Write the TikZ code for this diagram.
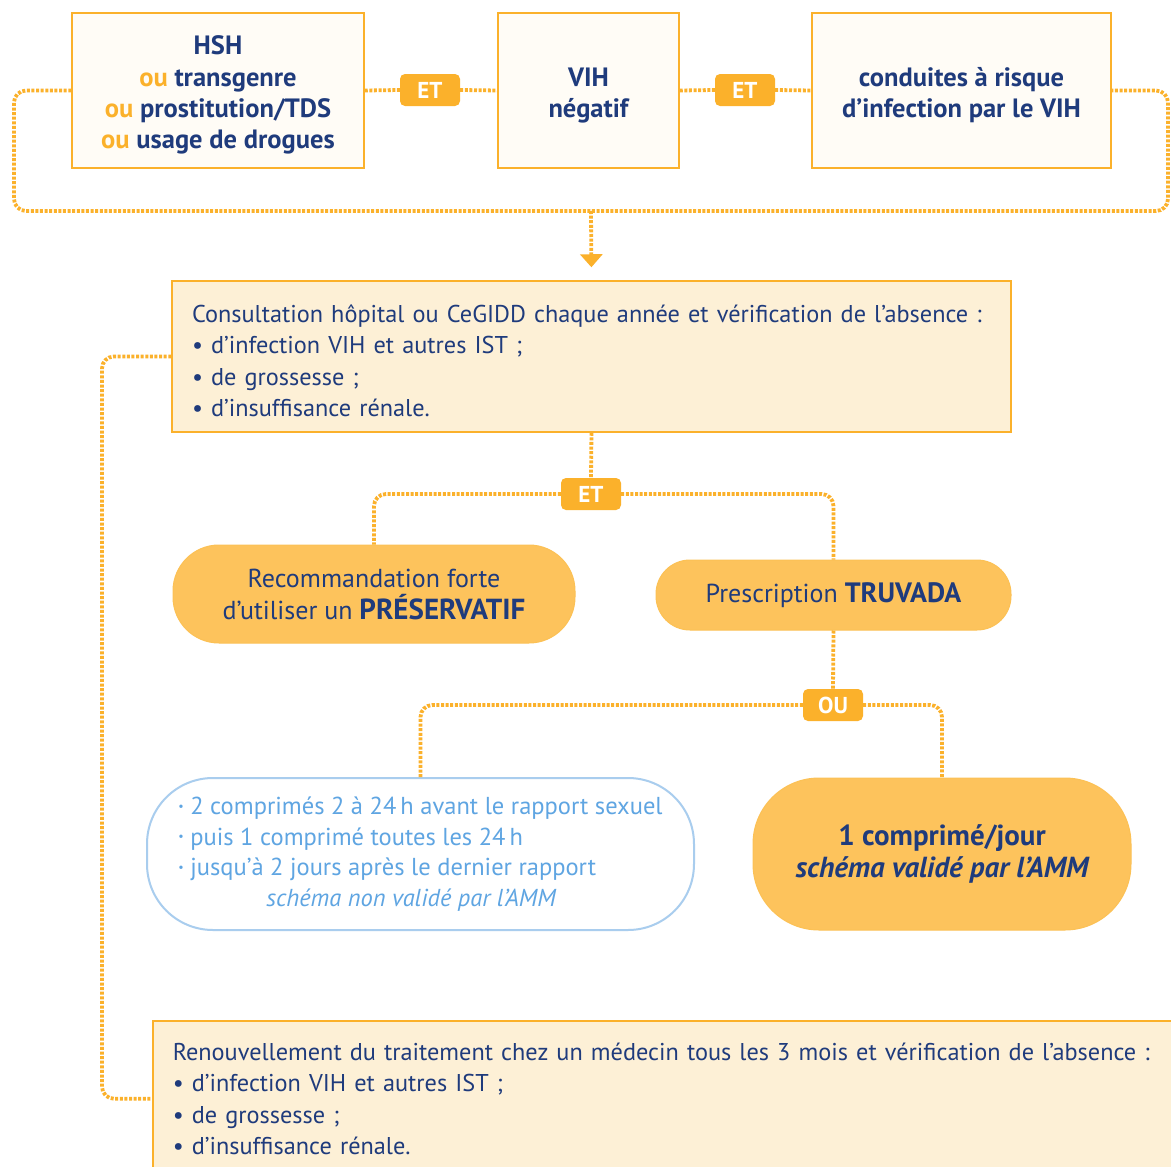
\documentclass[tikz,border=0pt]{standalone}
\usepackage{fontspec}
\setmainfont{PT Sans}
\usetikzlibrary{positioning, arrows.meta}

\definecolor{navy}{HTML}{1F3B7C}
\definecolor{orng}{HTML}{FBB12B}
\definecolor{pill}{HTML}{FDC35C}
\definecolor{cream}{HTML}{FDF0D6}
\definecolor{paper}{HTML}{FFFCF6}
\definecolor{skyb}{HTML}{5FA5E2}
\definecolor{skyline}{HTML}{A9CDEE}

\newcommand{\ou}{{\color{orng}ou}}
\newcommand{\bul}{\raisebox{0.35ex}{\fontsize{12}{12}\selectfont\textbullet}}

\tikzset{
  critbox/.style={draw=orng, line width=1.5pt, fill=paper, text=navy,
    font=\bfseries\fontsize{26.5}{31.3}\selectfont, align=center, inner sep=0pt,
    minimum height=155pt},
  infobox/.style={draw=orng, line width=1.5pt, fill=cream, text=navy,
    font=\fontsize{24.3}{31.5}\selectfont, align=left, inner sep=0pt},
  tag/.style={fill=orng, rounded corners=5pt, text=white,
    font=\bfseries\fontsize{23}{23}\selectfont, minimum width=60pt,
    minimum height=32pt, inner sep=0pt},
  pillbox/.style={fill=pill, draw=orng!80, line width=1pt, text=navy,
    align=center, inner sep=0pt, font=\fontsize{26}{32}\selectfont},
  conn/.style={draw=orng, line width=3.8pt, dash pattern=on 3pt off 1.6pt,
    rounded corners=12pt}
}

\begin{document}
\begin{tikzpicture}[x=1pt, y=-1pt]
  \useasboundingbox[fill=white] (0,0) rectangle (1171,1167);
  \clip (0,0) rectangle (1171,1167);

  % criteres
  \node[critbox, minimum width=292pt] (hsh) at (218,90.5)
    {\rule{0pt}{28pt}HSH\\ \ou{} transgenre\\ \ou{} prostitution/TDS\\ \ou{} usage de drogues};
  \node[critbox, minimum width=181pt] (vih) at (588.5,90.5) {\rule{0pt}{28pt}VIH\\ négatif};
  \node[critbox, minimum width=299pt] (risk) at (961.5,90.5)
    {\rule{0pt}{28pt}conduites à risque\\ d'infection par le VIH};
  \node[tag] (et1) at (430,90) {ET};
  \node[tag] (et2) at (745,90) {ET};

  \coordinate (loopL) at (14,211);
  \coordinate (loopR) at (1168,211);
  \coordinate (drop) at (591,211);

  % consultation
  \node[infobox, minimum width=839pt, minimum height=151pt, text width=799pt] (cons) at (591.5,356.5)
    {\rule{0pt}{26pt}Consultation hôpital ou CeGIDD chaque année et vérification de l'absence :\\
     \textbullet{} d'infection VIH et autres IST ;\\
     \textbullet{} de grossesse ;\\
     \textbullet{} d'insuffisance rénale.};

  \node[tag] (et3) at (591,494) {ET};
  \node[pillbox, rounded corners=46pt, minimum width=402pt, minimum height=98pt] (condom) at (374,594)
    {Recommandation forte\\ d'utiliser un \textbf{\fontsize{29}{32}\selectfont PRÉSERVATIF}};
  \node[pillbox, rounded corners=34pt, minimum width=355pt, minimum height=70pt] (truvada) at (833.5,595)
    {Prescription \textbf{\fontsize{28}{32}\selectfont TRUVADA}};

  \node[tag] (ou) at (833,705) {OU};
  \node[pillbox, fill=white, draw=skyline, line width=2pt, text=skyb, align=left,
    rounded corners=66pt, minimum width=547pt, minimum height=152pt,
    font=\fontsize{24.5}{30.5}\selectfont] (ondemand) at (420.5,854)
    {\bul{} 2 comprimés 2 à 24\,h avant le rapport sexuel\\
     \bul{} puis 1 comprimé toutes les 24\,h\\
     \bul{} jusqu'à 2 jours après le dernier rapport\\
     \hspace*{88pt}{\itshape schéma non validé par l'AMM}};
  \node[pillbox, rounded corners=66pt, minimum width=378pt, minimum height=152pt,
    font=\bfseries\fontsize{29}{32}\selectfont] (daily) at (942,854)
    {1 comprimé/jour\\ {\itshape schéma validé par l'AMM}};

  % renouvellement
  \node[infobox, anchor=north west, minimum width=1040pt, minimum height=156pt, text width=1000pt] (renew) at (152,1020)
    {Renouvellement du traitement chez un médecin tous les 3 mois et vérification de l'absence :\\
     \textbullet{} d'infection VIH et autres IST ;\\
     \textbullet{} de grossesse ;\\
     \textbullet{} d'insuffisance rénale.};
  \coordinate (loopV) at (102,700);

  % liens
  \draw[conn] (hsh.east) -- (et1.west);
  \draw[conn] (et1.east) -- (vih.west);
  \draw[conn] (vih.east) -- (et2.west);
  \draw[conn] (et2.east) -- (risk.west);
  \draw[conn] (hsh.west) -| (loopL) -- (loopR) |- (risk.east);
  \draw[conn, -{Triangle[width=22pt,length=13pt]}, shorten >=13pt] (drop) -- (cons.north);
  \draw[conn] (cons.south) -- (et3.north);
  \draw[conn] (et3.west) -| (condom.north);
  \draw[conn] (et3.east) -| (truvada.north);
  \draw[conn] (truvada.south) -- (ou.north);
  \draw[conn] (ou.west) -| (ondemand.north);
  \draw[conn] (ou.east) -| (daily.north);
  \draw[conn] (cons.west) -| (loopV) |- (renew.west);
\end{tikzpicture}
\end{document}
